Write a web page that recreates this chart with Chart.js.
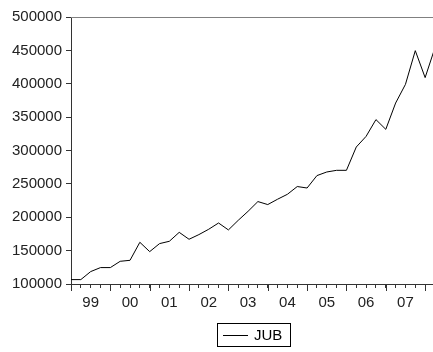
<!DOCTYPE html>
<html>
<head>
<meta charset="utf-8">
<script src="https://cdn.jsdelivr.net/npm/chart.js@4/dist/chart.umd.min.js"></script>
<style>
  html, body { margin: 0; padding: 0; background: #fff; }
  canvas { display: block; }
</style>
</head>
<body>
<canvas id="chart" width="433" height="352"></canvas>
<script>
// quarterly observations, 1999Q1 .. 2008Q2 (last one cut off at the right edge)
const quarters = [
    '1999Q1', '1999Q2', '1999Q3', '1999Q4', '2000Q1', '2000Q2', '2000Q3', '2000Q4',
    '2001Q1', '2001Q2', '2001Q3', '2001Q4', '2002Q1', '2002Q2', '2002Q3', '2002Q4',
    '2003Q1', '2003Q2', '2003Q3', '2003Q4', '2004Q1', '2004Q2', '2004Q3', '2004Q4',
    '2005Q1', '2005Q2', '2005Q3', '2005Q4', '2006Q1', '2006Q2', '2006Q3', '2006Q4',
    '2007Q1', '2007Q2', '2007Q3', '2007Q4', '2008Q1', '2008Q2'
];
const jub = [
    106600, 106600, 118600, 124600, 124600, 134000, 135500, 162500,
    148500, 160500, 164000, 177400, 167000, 174000, 182000, 191400,
    181000, 195400, 208900, 223500, 219000, 227000, 234400, 246000,
    243800, 262400, 267800, 270300, 270300, 305200, 321200, 346300,
    331700, 371100, 399100, 449600, 409200, 454000
];
const yearLabels = ['99', '00', '01', '02', '03', '04', '05', '06', '07'];
const yTicks = [100000, 150000, 200000, 250000, 300000, 350000, 400000, 450000, 500000];
const seriesName = 'JUB';

const FONT = { family: 'Liberation Sans, Arial, sans-serif', size: 15 };
const AXIS = '#333333';

// longer tick marks at each year start, top frame line, boxed legend
const framePlugin = {
    id: 'frame',
    afterDraw(chart) {
        const { ctx, chartArea, scales } = chart;
        ctx.save();
        ctx.lineWidth = 1;
        ctx.strokeStyle = AXIS;
        for (let i = 0; i < quarters.length; i += 4) {
            const x = Math.round(scales.x.getPixelForValue(i)) + 0.5;
            if (x > chartArea.right) break;
            ctx.beginPath();
            ctx.moveTo(x, chartArea.bottom);
            ctx.lineTo(x, chartArea.bottom + 7);
            ctx.stroke();
        }
        ctx.strokeStyle = '#808080';
        ctx.beginPath();
        ctx.moveTo(chartArea.left, Math.round(chartArea.top) + 0.5);
        ctx.lineTo(chartArea.right, Math.round(chartArea.top) + 0.5);
        ctx.stroke();

        // legend
        ctx.strokeStyle = '#000';
        ctx.strokeRect(217.5, 323.5, 73, 23);
        ctx.beginPath();
        ctx.moveTo(223, 335.5);
        ctx.lineTo(248, 335.5);
        ctx.stroke();
        ctx.fillStyle = '#000';
        ctx.font = `${FONT.size}px ${FONT.family}`;
        ctx.textBaseline = 'middle';
        ctx.fillText(seriesName, 254, 336);
        ctx.restore();
    }
};

new Chart(document.getElementById('chart'), {
    type: 'line',
    data: {
        datasets: [{
            label: seriesName,
            data: jub.map((v, i) => ({ x: i, y: v })),
            borderColor: '#000',
            borderWidth: 1,
            pointRadius: 0,
            tension: 0,
            fill: false,
        }],
    },
    options: {
        responsive: false,
        animation: false,
        events: [],
        layout: { padding: { top: 17, right: 0, bottom: 0, left: 0 } },
        plugins: { legend: { display: false }, tooltip: { enabled: false } },
        scales: {
            x: {
                type: 'linear',
                min: 0,
                max: 36.8,
                afterBuildTicks: (scale) => {
                    scale.ticks = quarters.slice(0, 37).map((_, i) => ({ value: i }));
                },
                afterFit: (scale) => { scale.height = 68; },
                ticks: {
                    autoSkip: false,
                    maxRotation: 0,
                    padding: 6,
                    color: '#222',
                    font: FONT,
                    callback: (v) => (v % 4 === 2 ? yearLabels[(v - 2) / 4] : ''),
                },
                grid: { drawOnChartArea: false, tickLength: 4, color: AXIS },
                border: { display: true, color: AXIS },
            },
            y: {
                min: 100000,
                max: 500000,
                afterBuildTicks: (scale) => {
                    scale.ticks = yTicks.map((v) => ({ value: v }));
                },
                afterFit: (scale) => { scale.width = 71; },
                ticks: {
                    padding: 4,
                    color: '#222',
                    font: FONT,
                    callback: (v) => String(v),
                },
                grid: { drawOnChartArea: false, tickLength: 5, color: AXIS },
                border: { display: true, color: AXIS },
            },
        },
    },
    plugins: [framePlugin],
});
</script>
</body>
</html>
